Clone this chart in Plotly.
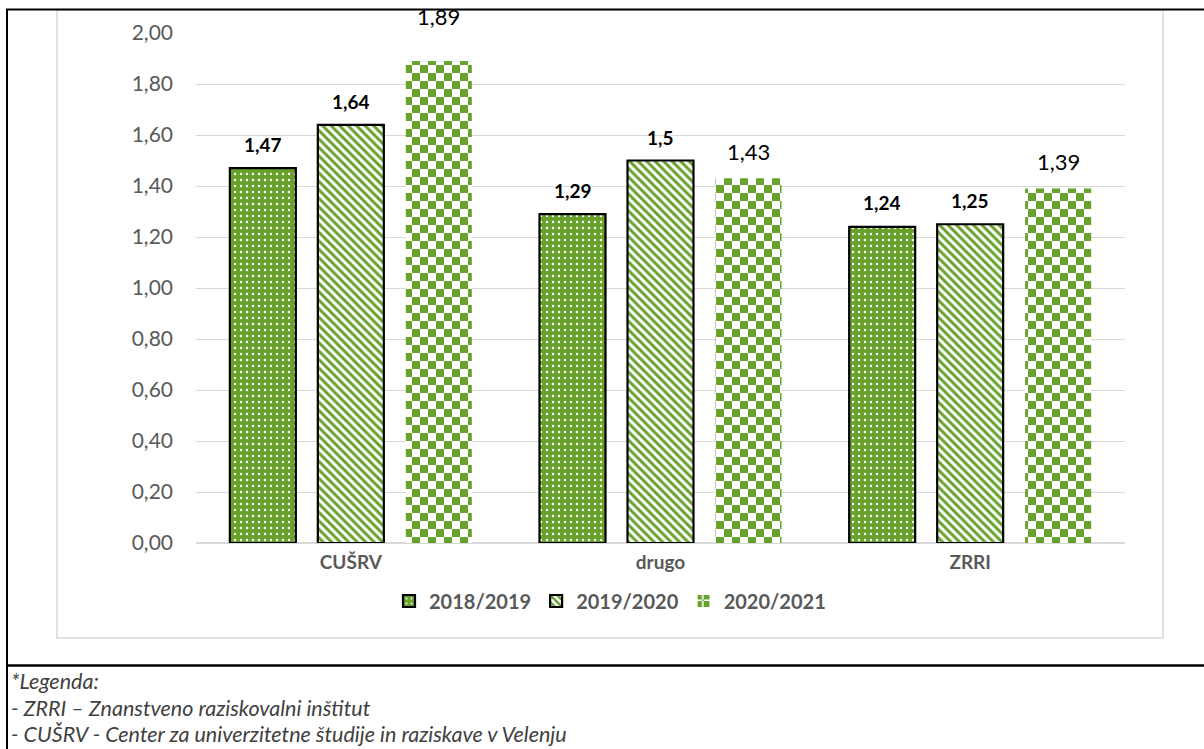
import plotly.graph_objects as go

# ---------------- data ----------------
categories = ["CUŠRV", "drugo", "ZRRI"]
series_names = ["2018/2019", "2019/2020", "2020/2021"]
v2018 = [1.47, 1.29, 1.24]
v2019 = [1.64, 1.50, 1.25]
v2020 = [1.89, 1.43, 1.39]
labels_2018 = ["1,47", "1,29", "1,24"]
labels_2019 = ["1,64", "1,5", "1,25"]
labels_2020 = ["1,89", "1,43", "1,39"]
y_tick_vals = [0.0, 0.2, 0.4, 0.6, 0.8, 1.0, 1.2, 1.4, 1.6, 1.8, 2.0]
footnote_lines = [
    "*Legenda:",
    "- ZRRI – Znanstveno raziskovalni inštitut",
    "- CUŠRV - Center za univerzitetne študije in raziskave v Velenju",
]

# ---------------- styling ----------------
W, H = 1204, 749
GREEN = "#68a22c"
FONT = "Lato"
GREY_TXT = "#595959"


def px(x):
    return x / W


def py(y):
    return 1 - y / H


fig = go.Figure()

fig.add_trace(go.Bar(
    name=series_names[0], x=categories, y=v2018,
    marker=dict(color=GREEN, line=dict(color="black", width=2.2),
                pattern=dict(shape=".", bgcolor=GREEN, fgcolor="white",
                             size=6, solidity=0.12, fillmode="replace")),
))
fig.add_trace(go.Bar(
    name=series_names[1], x=categories, y=v2019,
    marker=dict(color=GREEN, line=dict(color="black", width=2.2),
                pattern=dict(shape="\\", bgcolor="white", fgcolor=GREEN,
                             size=6, solidity=0.5, fillmode="replace")),
))
try:
    checker = go.bar.marker.Pattern(path="M0,0H8V8H0Z M8,8H16V16H8Z",
                                    bgcolor="white", fgcolor=GREEN, size=16,
                                    fillmode="replace")
except Exception:
    checker = go.bar.marker.Pattern(shape="+", bgcolor="white", fgcolor=GREEN,
                                    size=14, solidity=0.5, fillmode="replace")
fig.add_trace(go.Bar(
    name=series_names[2], x=categories, y=v2020,
    marker=dict(color=GREEN, line=dict(color="rgba(0,0,0,0)", width=0),
                pattern=checker),
))

# data labels
label_sets = [labels_2018, labels_2019, labels_2020]
value_sets = [v2018, v2019, v2020]
xshifts = [-88, 0, 88]
yshifts = [[24, 24, 24], [23, 23, 24], [45, 27, 27]]
annotations = []
for s in range(3):
    for c, cat in enumerate(categories):
        bold = s < 2
        annotations.append(dict(
            x=cat, y=value_sets[s][c], xref="x", yref="y",
            text=label_sets[s][c], showarrow=False,
            xshift=xshifts[s], yshift=yshifts[s][c],
            xanchor="center", yanchor="middle",
            font=dict(family=FONT, size=19 if bold else 22, color="black",
                      weight="bold" if bold else "normal"),
        ))

# footnote
for i, line in enumerate(footnote_lines):
    annotations.append(dict(
        x=px(9), y=py(681 + i * 26.5), xref="paper", yref="paper",
        text="<i>" + line + "</i>", showarrow=False,
        xanchor="left", yanchor="middle",
        font=dict(family=FONT, size=21.5, color="#404040"),
    ))

shapes = [
    # chart area border
    dict(type="rect", xref="paper", yref="paper",
         x0=px(57), x1=px(1163), y0=py(638), y1=py(10),
         line=dict(color="#d9d9d9", width=1.5), layer="below"),
    # black table lines
    dict(type="line", xref="paper", yref="paper",
         x0=px(6), x1=px(1204), y0=py(9.5), y1=py(9.5),
         line=dict(color="black", width=2)),
    dict(type="line", xref="paper", yref="paper",
         x0=px(7), x1=px(7), y0=py(9), y1=py(749),
         line=dict(color="black", width=2)),
    dict(type="line", xref="paper", yref="paper",
         x0=px(6), x1=px(1204), y0=py(665.5), y1=py(665.5),
         line=dict(color="black", width=2.5)),
]

fig.update_layout(
    width=W, height=H,
    margin=dict(l=0, r=0, t=0, b=0, pad=0, autoexpand=False),
    paper_bgcolor="white", plot_bgcolor="white",
    separators=", ",
    barmode="group", bargap=0.1475, bargroupgap=0.25,
    font=dict(family=FONT, color=GREY_TXT),
    showlegend=True,
    legend=dict(orientation="h", x=px(610), xanchor="center",
                y=py(601), yanchor="middle",
                font=dict(family=FONT, size=20, color=GREY_TXT, weight="bold"),
                itemwidth=30, traceorder="normal", bgcolor="rgba(0,0,0,0)"),
    xaxis=dict(domain=[px(196), px(1125)], showgrid=False, showline=False,
               automargin=False, ticks="", ticklabelstandoff=6,
               tickfont=dict(family=FONT, size=19, color=GREY_TXT, weight="bold")),
    yaxis=dict(domain=[py(543), py(33)], range=[0, 2.0], automargin=False,
               tickvals=y_tick_vals, tickformat=".2f",
               showgrid=True, gridcolor="#d9d9d9", gridwidth=1.2,
               zeroline=True, zerolinecolor="#d9d9d9", zerolinewidth=1.5,
               showline=False, ticks="", ticklabelstandoff=22,
               tickfont=dict(family=FONT, size=21, color=GREY_TXT)),
    annotations=annotations,
    shapes=shapes,
)

fig.write_html(
    "out.html",
    config={"displayModeBar": False},
    post_script="document.body.style.margin='0';document.body.style.overflow='hidden';",
)
